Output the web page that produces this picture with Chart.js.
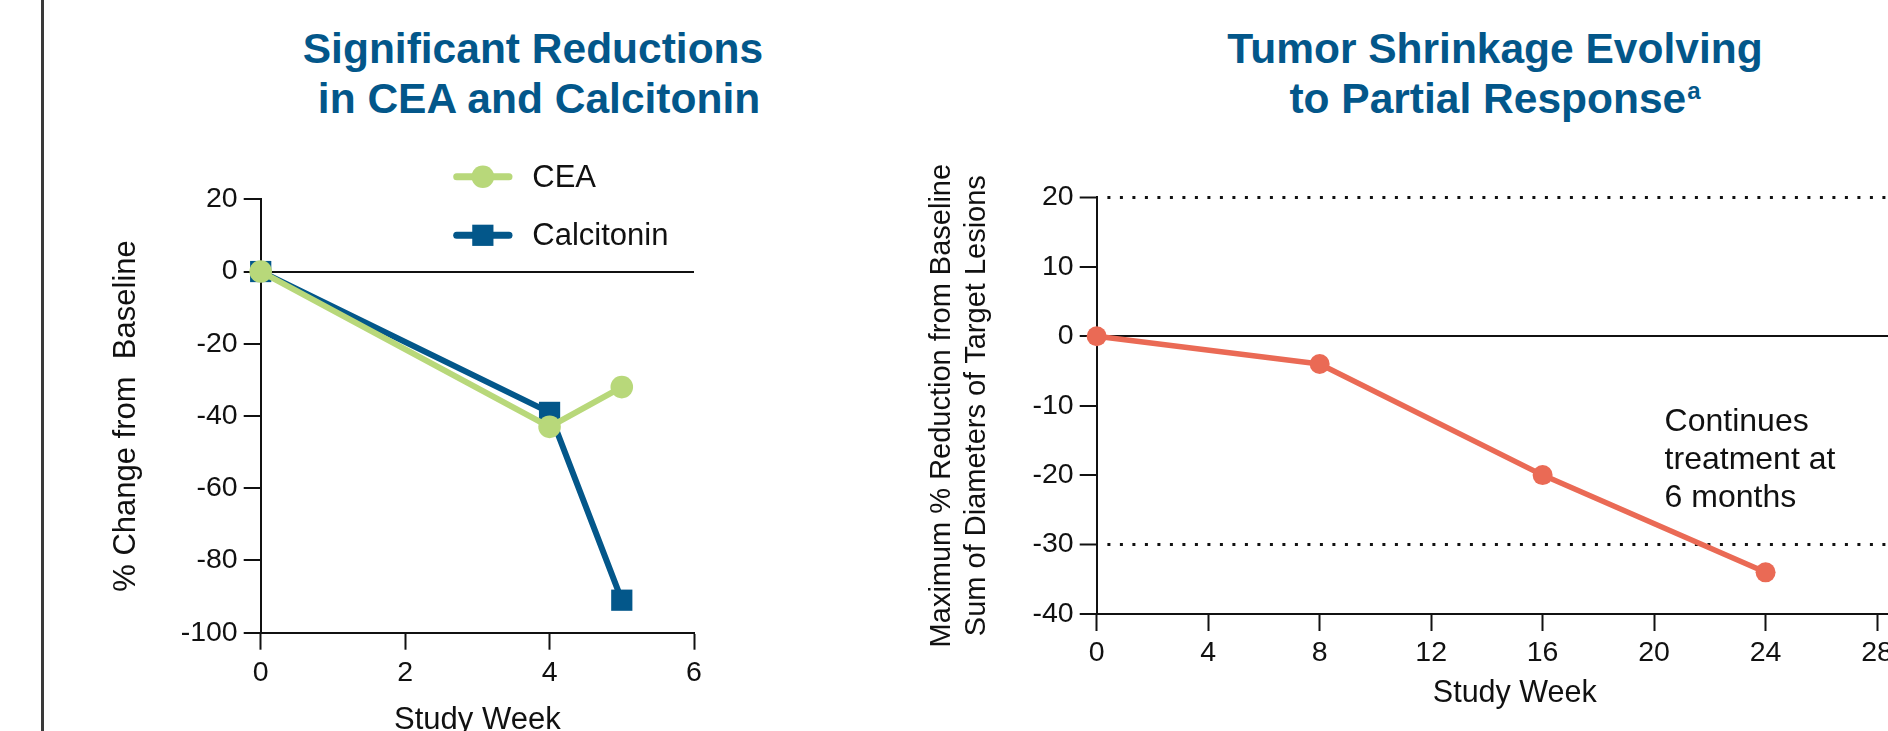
<!DOCTYPE html>
<html>
<head>
<meta charset="utf-8">
<script src="https://cdn.jsdelivr.net/npm/chart.js@4/dist/chart.umd.min.js"></script>
<style>
  html, body { margin: 0; padding: 0; width: 1888px; height: 731px; overflow: hidden; background: #fff; }
  #stage { position: relative; width: 1888px; height: 731px; overflow: hidden; background: #fff; }
  .rule { position: absolute; left: 41px; top: 0; width: 2.5px; height: 731px; background: #3a3a3a; }
  .title {
    position: absolute; white-space: nowrap; transform: translateX(-50%);
    font-family: "Liberation Sans", Arial, sans-serif; font-weight: bold;
    font-size: 42.5px; line-height: 50px; color: #03578A;
  }
  .title .sup { font-size: 24px; position: relative; top: -14px; margin-left: 1px; }
  canvas { position: absolute; top: 0; }
  #markers { left: 0; }
  #tumor { left: 880px; }
</style>
</head>
<body>
<div id="stage">
  <div class="rule"></div>
  <div class="title" style="left:533px; top:23.5px;">Significant Reductions</div>
  <div class="title" style="left:539px; top:73.5px;">in CEA and Calcitonin</div>
  <div class="title" style="left:1495px; top:23.5px;">Tumor Shrinkage Evolving</div>
  <div class="title" style="left:1495px; top:73.5px;">to Partial Response<span class="sup">a</span></div>
  <canvas id="markers" width="760" height="731" style="width:760px;height:731px;"></canvas>
  <canvas id="tumor" width="1100" height="731" style="width:1100px;height:731px;"></canvas>
</div>
<script>
// ---- Tumour markers: % change from baseline by study week ----
const ceaWeeks = [0, 4, 5];
const ceaChange = [0, -43, -32];
const calcitoninWeeks = [0, 4, 5];
const calcitoninChange = [0, -39, -91];
const markerWeekTicks = [0, 2, 4, 6];
const markerChangeTicks = [-100, -80, -60, -40, -20, 0, 20];

// ---- Target lesions: % reduction in sum of diameters by study week ----
const tumorWeeks = [0, 8, 16, 24];
const tumorChange = [0, -4, -20, -34];
const tumorWeekTicks = [0, 4, 8, 12, 16, 20, 24, 28];
const tumorChangeTicks = [-40, -30, -20, -10, 0, 10, 20];
const responseThresholds = [20, -30];
const annotationLines = ['Continues', 'treatment at', '6 months'];

const INK = '#111111';
const GREEN = '#B8D87A';
const BLUE = '#03578A';
const CORAL = '#EA6A55';
const FONT = '"Liberation Sans", Arial, sans-serif';
const TICK_FONT = { size: 28.5 };

Chart.defaults.font.family = FONT;
Chart.defaults.color = INK;

const toPoints = (xs, ys) => xs.map((x, i) => ({ x, y: ys[i] }));
const fixedTicks = values => scale => { scale.ticks = values.map(value => ({ value })); };
const tickValue = c => (c && c.tick ? c.tick.value : null);

// Legend drawn as line + marker swatches beside the series names
const seriesKey = {
  id: 'seriesKey',
  afterDraw(chart) {
    const { ctx, chartArea } = chart;
    const opts = chart.options.plugins.seriesKey;
    chart.data.datasets.forEach((ds, i) => {
      const x0 = chartArea.left + opts.left;
      const y = chartArea.top + opts.rows[i];
      const cx = x0 + opts.lineLength / 2;
      ctx.save();
      ctx.strokeStyle = ds.borderColor;
      ctx.fillStyle = ds.backgroundColor;
      ctx.lineWidth = 7;
      ctx.lineCap = 'round';
      ctx.beginPath();
      ctx.moveTo(x0, y);
      ctx.lineTo(x0 + opts.lineLength, y);
      ctx.stroke();
      if (ds.pointStyle === 'rect') {
        const half = ds.pointRadius * Math.SQRT1_2;
        ctx.fillRect(cx - half, y - half, half * 2, half * 2);
      } else {
        ctx.beginPath();
        ctx.arc(cx, y, ds.pointRadius, 0, Math.PI * 2);
        ctx.fill();
      }
      ctx.fillStyle = INK;
      ctx.font = '31px ' + FONT;
      ctx.textAlign = 'left';
      ctx.textBaseline = 'middle';
      ctx.fillText(ds.label, chartArea.left + opts.textLeft, y + 1.5);
      ctx.restore();
    });
  }
};

// Free-text note inside the plot area
const note = {
  id: 'note',
  afterDraw(chart) {
    const opts = chart.options.plugins.note;
    const { ctx, chartArea } = chart;
    ctx.save();
    ctx.fillStyle = INK;
    ctx.font = '32px ' + FONT;
    ctx.textAlign = 'left';
    ctx.textBaseline = 'middle';
    opts.lines.forEach((line, i) => {
      ctx.fillText(line, chartArea.left + opts.left, chartArea.top + opts.top + i * opts.lineGap);
    });
    ctx.restore();
  }
};

const commonOptions = {
  responsive: false,
  maintainAspectRatio: false,
  animation: false,
  devicePixelRatio: 1,
  events: []
};

// ---------------- CEA and calcitonin ----------------
new Chart(document.getElementById('markers'), {
  type: 'line',
  data: {
    datasets: [
      {
        label: 'CEA',
        data: toPoints(ceaWeeks, ceaChange),
        borderColor: GREEN, backgroundColor: GREEN,
        borderWidth: 6, borderJoinStyle: 'round', borderCapStyle: 'round',
        pointStyle: 'circle', pointRadius: 11.3, pointBorderWidth: 0,
        pointBackgroundColor: GREEN, clip: false, tension: 0
      },
      {
        label: 'Calcitonin',
        data: toPoints(calcitoninWeeks, calcitoninChange),
        borderColor: BLUE, backgroundColor: BLUE,
        borderWidth: 6, borderJoinStyle: 'round', borderCapStyle: 'round',
        pointStyle: 'rect', pointRadius: 15, pointBorderWidth: 0,
        pointBackgroundColor: BLUE, clip: false, tension: 0
      }
    ]
  },
  options: Object.assign({}, commonOptions, {
    layout: { padding: { left: 0, top: 199.3, right: 66, bottom: 0 } },
    plugins: {
      legend: { display: false },
      tooltip: { enabled: false },
      seriesKey: { left: 196, lineLength: 52.3, textLeft: 271.6, rows: [-22.6, 36] }
    },
    scales: {
      x: {
        type: 'linear', position: 'bottom', min: 0, max: 6, bounds: 'data',
        afterBuildTicks: fixedTicks(markerWeekTicks),
        afterFit: s => { s.height = 731 - 632.7; s.paddingLeft = 0; s.paddingRight = 0; },
        grid: { drawOnChartArea: false, tickLength: 17, tickWidth: 2, tickColor: INK },
        border: { display: true, color: INK, width: 2 },
        ticks: { font: TICK_FONT, padding: 6, color: INK, maxRotation: 0, autoSkip: false },
        title: { display: true, text: 'Study Week', color: INK, font: { size: 31, lineHeight: 1 }, padding: { top: 0, bottom: -4.5 } }
      },
      y: {
        type: 'linear', position: 'left', min: -100, max: 20, bounds: 'data',
        afterBuildTicks: fixedTicks(markerChangeTicks),
        afterFit: s => { s.width = 260.7; s.paddingTop = 0; s.paddingBottom = 0; },
        grid: {
          drawOnChartArea: true,
          color: c => (tickValue(c) === 0 ? INK : 'rgba(0,0,0,0)'),
          lineWidth: 2, tickLength: 17, tickWidth: 2, tickColor: INK
        },
        border: { display: true, color: INK, width: 2 },
        ticks: { font: TICK_FONT, padding: 6, color: INK, autoSkip: false },
        title: { display: true, text: '% Change from  Baseline', color: INK, font: { size: 31 }, padding: { top: 107.4, bottom: 0 } }
      }
    }
  }),
  plugins: [seriesKey]
});

// ---------------- Target lesion shrinkage ----------------
new Chart(document.getElementById('tumor'), {
  type: 'line',
  data: {
    datasets: [
      {
        label: 'Sum of diameters',
        data: toPoints(tumorWeeks, tumorChange),
        borderColor: CORAL, backgroundColor: CORAL,
        borderWidth: 5.5, borderJoinStyle: 'round', borderCapStyle: 'round',
        pointStyle: 'circle', pointRadius: 10, pointBorderWidth: 0,
        pointBackgroundColor: CORAL, clip: false, tension: 0
      }
    ]
  },
  options: Object.assign({}, commonOptions, {
    layout: { padding: { left: 0, top: 197.3, right: 47.2, bottom: 0 } },
    plugins: {
      legend: { display: false },
      tooltip: { enabled: false },
      note: { lines: annotationLines, left: 567.9, top: 224.4, lineGap: 38.2 }
    },
    scales: {
      x: {
        type: 'linear', position: 'bottom', min: 0, max: 30, bounds: 'data',
        afterBuildTicks: fixedTicks(tumorWeekTicks),
        afterFit: s => { s.height = 731 - 614; s.paddingLeft = 0; s.paddingRight = 0; },
        grid: { drawOnChartArea: false, tickLength: 17, tickWidth: 2, tickColor: INK },
        border: { display: true, color: INK, width: 2 },
        ticks: { font: TICK_FONT, padding: 5, color: INK, maxRotation: 0, autoSkip: false },
        title: { display: true, text: 'Study Week', color: INK, font: { size: 30.5 }, padding: { top: 0, bottom: 19.2 } }
      },
      y: {
        type: 'linear', position: 'left', min: -40, max: 20, bounds: 'data',
        afterBuildTicks: fixedTicks(tumorChangeTicks),
        afterFit: s => { s.width = 216.7; s.paddingTop = 0; s.paddingBottom = 0; },
        grid: {
          drawOnChartArea: true,
          color: c => {
            const v = tickValue(c);
            return v === 0 || responseThresholds.includes(v) ? INK : 'rgba(0,0,0,0)';
          },
          lineWidth: c => (responseThresholds.includes(tickValue(c)) ? 3 : 2),
          tickLength: 17, tickWidth: 2, tickColor: INK
        },
        border: {
          display: true, color: INK, width: 2,
          dash: c => (responseThresholds.includes(tickValue(c)) ? [3, 9.5] : []),
          dashOffset: 3.1
        },
        ticks: { font: TICK_FONT, padding: 6, color: INK, autoSkip: false },
        title: {
          display: true,
          text: ['Maximum % Reduction from Baseline', 'Sum of Diameters of Target Lesions'],
          color: INK, font: { size: 29 }, padding: { top: 44.3, bottom: 0 }
        }
      }
    }
  }),
  plugins: [note]
});
</script>
</body>
</html>
